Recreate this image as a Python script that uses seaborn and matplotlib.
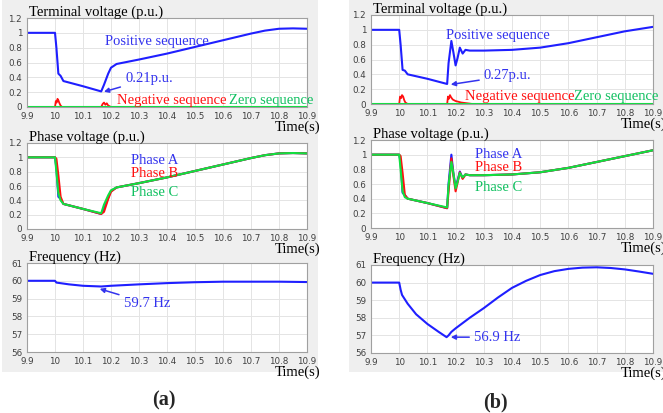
import numpy as np
import seaborn as sns
import matplotlib.pyplot as plt
from matplotlib.patches import Rectangle

sns.set_style("whitegrid")
plt.rcParams['font.family'] = ['DejaVu Sans']

# ---------------- data ----------------
# (a) terminal voltage
t_a_pos = [9.9, 10.0, 10.005, 10.012, 10.02, 10.03, 10.1, 10.165, 10.175, 10.19, 10.2, 10.22, 10.3, 10.4, 10.5, 10.6, 10.7, 10.75, 10.8, 10.85, 10.9]
v_a_pos = [1.0, 1.0, 0.8, 0.45, 0.42, 0.35, 0.28, 0.21, 0.3, 0.45, 0.53, 0.58, 0.64, 0.72, 0.81, 0.9, 0.99, 1.03, 1.055, 1.06, 1.055]
t_a_neg = [9.9, 10.0, 10.003, 10.006, 10.009, 10.012, 10.016, 10.02, 10.025, 10.165, 10.17, 10.175, 10.18, 10.185, 10.19, 10.2, 10.9]
v_a_neg = [0, 0, 0.08, 0.06, 0.11, 0.09, 0.05, 0.02, 0.0, 0.0, 0.04, 0.06, 0.03, 0.05, 0.02, 0.0, 0.0]
t_zero = [9.9, 10.9]
v_zero = [0.005, 0.005]

# (a) phase voltages
t_a_ph = [9.9, 10.0, 10.005, 10.012, 10.02, 10.03, 10.1, 10.165, 10.175, 10.19, 10.2, 10.22, 10.3, 10.4, 10.5, 10.6, 10.7, 10.75, 10.8, 10.85, 10.9]
v_a_phA = [1.0, 1.0, 0.85, 0.45, 0.42, 0.35, 0.28, 0.21, 0.28, 0.44, 0.53, 0.58, 0.64, 0.72, 0.81, 0.9, 0.99, 1.03, 1.055, 1.06, 1.055]
v_a_phB = [1.0, 1.0, 0.98, 0.75, 0.45, 0.35, 0.28, 0.21, 0.24, 0.42, 0.52, 0.58, 0.64, 0.72, 0.81, 0.9, 0.99, 1.03, 1.055, 1.06, 1.055]
v_a_phC = [1.0, 1.0, 0.8, 0.5, 0.4, 0.35, 0.28, 0.22, 0.34, 0.47, 0.54, 0.58, 0.64, 0.72, 0.81, 0.9, 0.99, 1.03, 1.055, 1.06, 1.055]

# (a) frequency
t_a_f = [9.9, 10.0, 10.005, 10.05, 10.1, 10.165, 10.2, 10.3, 10.4, 10.5, 10.6, 10.7, 10.8, 10.9]
f_a = [60, 60, 59.9, 59.8, 59.72, 59.68, 59.72, 59.8, 59.87, 59.92, 59.95, 59.95, 59.95, 59.93]

# (b) terminal voltage
t_b_pos = [9.9, 10.0, 10.005, 10.012, 10.02, 10.03, 10.1, 10.17, 10.175, 10.185, 10.192, 10.2, 10.207, 10.215, 10.225, 10.235, 10.25, 10.3, 10.4, 10.5, 10.6, 10.7, 10.8, 10.9]
v_b_pos = [1.0, 1.0, 0.8, 0.46, 0.45, 0.4, 0.34, 0.27, 0.55, 0.85, 0.7, 0.52, 0.62, 0.76, 0.68, 0.73, 0.72, 0.72, 0.73, 0.76, 0.82, 0.9, 0.98, 1.04]
t_b_neg = [9.9, 10.0, 10.003, 10.007, 10.01, 10.014, 10.018, 10.022, 10.03, 10.17, 10.173, 10.176, 10.18, 10.184, 10.19, 10.2, 10.21, 10.22, 10.24, 10.26, 10.9]
v_b_neg = [0, 0, 0.1, 0.08, 0.12, 0.1, 0.05, 0.02, 0.0, 0.0, 0.1, 0.07, 0.12, 0.09, 0.06, 0.04, 0.03, 0.02, 0.01, 0.0, 0.0]

# (b) phase voltages
t_b_ph = [9.9, 10.0, 10.005, 10.012, 10.02, 10.03, 10.1, 10.17, 10.175, 10.185, 10.192, 10.2, 10.207, 10.215, 10.225, 10.235, 10.25, 10.3, 10.4, 10.5, 10.6, 10.7, 10.8, 10.9]
v_b_phA = [1.0, 1.0, 0.9, 0.48, 0.45, 0.4, 0.34, 0.27, 0.6, 1.0, 0.75, 0.55, 0.65, 0.77, 0.68, 0.73, 0.72, 0.72, 0.73, 0.76, 0.82, 0.9, 0.98, 1.06]
v_b_phB = [1.0, 1.0, 0.98, 0.75, 0.45, 0.4, 0.34, 0.27, 0.5, 0.95, 0.72, 0.5, 0.62, 0.76, 0.67, 0.73, 0.72, 0.72, 0.73, 0.76, 0.82, 0.9, 0.98, 1.06]
v_b_phC = [1.0, 1.0, 0.8, 0.5, 0.42, 0.4, 0.34, 0.28, 0.58, 0.9, 0.75, 0.54, 0.63, 0.75, 0.69, 0.73, 0.72, 0.72, 0.73, 0.76, 0.82, 0.9, 0.98, 1.06]

# (b) frequency
t_b_f = [9.9, 10.0, 10.005, 10.01, 10.03, 10.06, 10.1, 10.14, 10.168, 10.175, 10.185, 10.2, 10.25, 10.3, 10.35, 10.4, 10.45, 10.5, 10.55, 10.6, 10.65, 10.7, 10.75, 10.8, 10.85, 10.9]
f_b = [60, 60, 59.6, 59.3, 58.8, 58.2, 57.65, 57.2, 56.9, 57.0, 57.2, 57.4, 58.0, 58.55, 59.15, 59.7, 60.1, 60.43, 60.65, 60.78, 60.85, 60.87, 60.83, 60.75, 60.63, 60.5]

xticks = [9.9, 10.0, 10.1, 10.2, 10.3, 10.4, 10.5, 10.6, 10.7, 10.8, 10.9]
xtick_labels = ['9.9', '10', '10.1', '10.2', '10.3', '10.4', '10.5', '10.6', '10.7', '10.8', '10.9']
vticks = [0, 0.2, 0.4, 0.6, 0.8, 1.0, 1.2]
vtick_labels = ['0', '0.2', '0.4', '0.6', '0.8', '1', '1.2']
fticks = [56, 57, 58, 59, 60, 61]

BLUE = '#1f1fff'
RED = '#ff1010'
GREEN = '#10e040'
TBLUE = '#3333ee'
TGREEN = '#10c060'
SERIF = ['Liberation Serif', 'DejaVu Serif']

W, H = 663, 413
fig = plt.figure(figsize=(W / 100, H / 100), dpi=100)
fig.patch.set_facecolor('white')

# gray panels behind each column
for x0, wd in [(2, 316), (349, 314)]:
    fig.add_artist(Rectangle((x0 / W, 1 - 372 / H), wd / W, 372 / H, transform=fig.transFigure,
                             facecolor='#efefef', edgecolor='none', zorder=-5))


def make_ax(x0, x1, ytop, ybot):
    ax = fig.add_axes([x0 / W, 1 - ybot / H, (x1 - x0) / W, (ybot - ytop) / H])
    ax.set_zorder(2)
    ax.set_facecolor('white')
    ax.set_xlim(9.9, 10.9)
    ax.set_xticks(xticks)
    ax.set_xticklabels(xtick_labels)
    ax.grid(True, color='#e4e4e4', lw=0.7)
    for s in ax.spines.values():
        s.set_color('#a0a0a0')
        s.set_linewidth(0.8)
    ax.tick_params(axis='both', labelsize=6.3, colors='#404040', length=2, pad=1.5)
    return ax


def deco(ax, title, volt=True):
    ax.set_xlabel('')
    ax.set_ylabel('')
    if volt:
        ax.set_ylim(0, 1.2)
        ax.set_yticks(vticks)
        ax.set_yticklabels(vtick_labels)
    else:
        ax.set_ylim(56, 61)
        ax.set_yticks(fticks)
    ax.annotate(title, xy=(0, 1), xycoords='axes fraction', xytext=(2, 2),
                textcoords='offset pixels', family=SERIF, fontsize=10.5,
                ha='left', va='baseline', color='black', annotation_clip=False)
    ax.annotate('Time(s)', xy=(1, 0), xycoords='axes fraction', xytext=(13, -14),
                textcoords='offset pixels', family=SERIF, fontsize=10.5,
                ha='right', va='top', color='black', annotation_clip=False)


def note(ax, s, x, y, c):
    ax.text(x, y, s, color=c, family=SERIF, fontsize=10.5, va='center')


def arrow_note(ax, s, xy, xytext):
    ax.annotate(s, xy=xy, xytext=xytext, color=TBLUE, family=SERIF, fontsize=10.5, va='center',
                arrowprops=dict(arrowstyle='-|>', color=TBLUE, lw=1.1, mutation_scale=7,
                                shrinkA=1, shrinkB=1))


cols = [(27, 307, [(18, 107), (143, 229), (263, 352)]),
        (371, 653, [(15, 104), (140, 228), (265, 353)])]

axes = []
for x0, x1, rows in cols:
    axes.append([make_ax(x0, x1, yt, yb) for yt, yb in rows])

# ----- (a) -----
ax = axes[0][0]
sns.lineplot(x=t_a_pos, y=v_a_pos, ax=ax, color=BLUE, lw=1.5)
sns.lineplot(x=t_a_neg, y=v_a_neg, ax=ax, color=RED, lw=1.3)
sns.lineplot(x=t_zero, y=v_zero, ax=ax, color=GREEN, lw=1.5)
deco(ax, 'Terminal voltage (p.u.)')
note(ax, 'Positive sequence', 10.18, 0.88, TBLUE)
note(ax, 'Negative sequence', 10.22, 0.09, RED)
note(ax, 'Zero sequence', 10.62, 0.09, TGREEN)
arrow_note(ax, '0.21p.u.', (10.17, 0.2), (10.25, 0.38))

ax = axes[0][1]
sns.lineplot(x=t_a_ph, y=v_a_phA, ax=ax, color=BLUE, lw=1.5)
sns.lineplot(x=t_a_ph, y=v_a_phB, ax=ax, color=RED, lw=1.5)
sns.lineplot(x=t_a_ph, y=v_a_phC, ax=ax, color=GREEN, lw=1.5)
deco(ax, 'Phase voltage (p.u.)')
note(ax, 'Phase A', 10.27, 0.96, TBLUE)
note(ax, 'Phase B', 10.27, 0.78, RED)
note(ax, 'Phase C', 10.27, 0.51, TGREEN)

ax = axes[0][2]
sns.lineplot(x=t_a_f, y=f_a, ax=ax, color=BLUE, lw=1.5)
deco(ax, 'Frequency (Hz)', volt=False)
arrow_note(ax, '59.7 Hz', (10.155, 59.57), (10.245, 58.75))

# ----- (b) -----
ax = axes[1][0]
sns.lineplot(x=t_b_pos, y=v_b_pos, ax=ax, color=BLUE, lw=1.5)
sns.lineplot(x=t_b_neg, y=v_b_neg, ax=ax, color=RED, lw=1.3)
sns.lineplot(x=t_zero, y=v_zero, ax=ax, color=GREEN, lw=1.5)
deco(ax, 'Terminal voltage (p.u.)')
note(ax, 'Positive sequence', 10.165, 0.93, TBLUE)
note(ax, 'Negative sequence', 10.235, 0.1, RED)
note(ax, 'Zero sequence', 10.62, 0.1, TGREEN)
arrow_note(ax, '0.27p.u.', (10.178, 0.26), (10.3, 0.38))

ax = axes[1][1]
sns.lineplot(x=t_b_ph, y=v_b_phA, ax=ax, color=BLUE, lw=1.5)
sns.lineplot(x=t_b_ph, y=v_b_phB, ax=ax, color=RED, lw=1.5)
sns.lineplot(x=t_b_ph, y=v_b_phC, ax=ax, color=GREEN, lw=1.5)
deco(ax, 'Phase voltage (p.u.)')
note(ax, 'Phase A', 10.27, 1.0, TBLUE)
note(ax, 'Phase B', 10.27, 0.82, RED)
note(ax, 'Phase C', 10.27, 0.55, TGREEN)

ax = axes[1][2]
sns.lineplot(x=t_b_f, y=f_b, ax=ax, color=BLUE, lw=1.5)
deco(ax, 'Frequency (Hz)', volt=False)
arrow_note(ax, '56.9 Hz', (10.178, 56.9), (10.265, 56.9))

fig.text(164 / W, 1 - 400 / H, '(a)', family=SERIF, fontsize=14.5, fontweight='bold', ha='center', va='center')
fig.text(495 / W, 1 - 402 / H, '(b)', family=SERIF, fontsize=14.5, fontweight='bold', ha='center', va='center')

fig.savefig('out.png', dpi=100)
